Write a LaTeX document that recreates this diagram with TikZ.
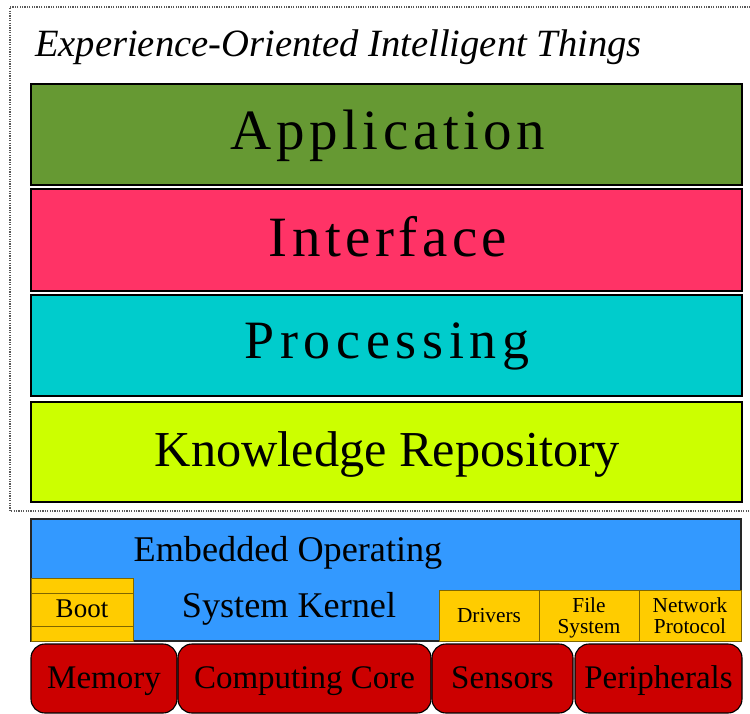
\documentclass[tikz,border=0pt]{standalone}
\usepackage{fontspec}
\setmainfont{Liberation Serif}
\definecolor{appgreen}{HTML}{669933}
\definecolor{intred}{HTML}{FF3366}
\definecolor{proccyan}{HTML}{00CCCC}
\definecolor{knowyellow}{HTML}{CCFF00}
\definecolor{osblue}{HTML}{3399FF}
\definecolor{modyellow}{HTML}{FFCC00}
\definecolor{modline}{HTML}{7F6600}
\definecolor{hwred}{HTML}{CC0000}
\begin{document}
\begin{tikzpicture}[x=1pt,y=-1pt,
  box/.style={rectangle, inner sep=0pt, outer sep=0pt, anchor=north west},
  layer/.style={box, draw=black, line width=1.5pt},
  osbox/.style={box, draw=black!85, line width=1.2pt, fill=osblue},
  module/.style={box, draw=modline, line width=0.8pt, fill=modyellow},
  hw/.style={box, draw=black, line width=1.1pt, fill=hwred, rounded corners=14pt},
  txt/.style={inner sep=0pt, outer sep=0pt, anchor=base, text=black},
]
\useasboundingbox (0,0) rectangle (750,713);
% dotted frame
\draw[black!65, line width=1.2pt, dash pattern=on 1.2pt off 1.2pt] (760,7) -- (10,7) -- (10,511) -- (760,511);
\node[txt, anchor=base west] (title) at (35,56) {\fontsize{38.6}{40}\selectfont\itshape Experience-Oriented Intelligent Things};
% layers
\node[layer, fill=appgreen, minimum width=711pt, minimum height=101pt] (app) at (31,84) {};
\node[layer, fill=intred, minimum width=711pt, minimum height=102pt] (int) at (31,189) {};
\node[layer, fill=proccyan, minimum width=711pt, minimum height=101pt] (proc) at (31,295) {};
\node[layer, fill=knowyellow, minimum width=711pt, minimum height=100pt] (know) at (31,402) {};
\node[txt] (apptxt) at (388,149) {\addfontfeature{LetterSpace=8}\fontsize{57}{60}\selectfont Application};
\node[txt] (inttxt) at (388,256) {\addfontfeature{LetterSpace=7.8}\fontsize{57}{60}\selectfont Interface};
\node[txt] (proctxt) at (387,358) {\addfontfeature{LetterSpace=10.5}\fontsize{54}{60}\selectfont Processing};
\node[txt] (knowtxt) at (387.5,466) {\fontsize{50.3}{55}\selectfont Knowledge Repository};
% OS kernel
\node[osbox, minimum width=710pt, minimum height=122pt] (os) at (31,519) {};
\node[txt] (ostxt1) at (288,561) {\fontsize{36.2}{40}\selectfont Embedded Operating};
\node[txt] (ostxt2) at (289,617) {\fontsize{36.2}{40}\selectfont System Kernel};
\node[module, minimum width=102pt, minimum height=15pt] (boota) at (31,578) {};
\node[module, minimum width=102pt, minimum height=33pt] (boot) at (31,593) {};
\node[module, minimum width=102pt, minimum height=15pt] (bootc) at (31,626) {};
\node[txt] (boottxt) at (82,617) {\fontsize{27}{30}\selectfont Boot};
\node[module, minimum width=100pt, minimum height=51pt] (drv) at (439,590) {};
\node[module, minimum width=100pt, minimum height=51pt] (fs) at (539,590) {};
\node[module, minimum width=102pt, minimum height=51pt] (net) at (639,590) {};
\node[txt] (drvtxt) at (489,622) {\fontsize{21.3}{24}\selectfont Drivers};
\node[txt] (fstxt1) at (589,612) {\fontsize{21.3}{24}\selectfont File};
\node[txt] (fstxt2) at (589,633) {\fontsize{21.3}{24}\selectfont System};
\node[txt] (nettxt1) at (690,612) {\fontsize{21.3}{24}\selectfont Network};
\node[txt] (nettxt2) at (690,633) {\fontsize{21.3}{24}\selectfont Protocol};
% hardware
\node[hw, minimum width=146pt, minimum height=69pt] (mem) at (31,644) {};
\node[hw, minimum width=253pt, minimum height=69pt] (core) at (178,644) {};
\node[hw, minimum width=141pt, minimum height=69pt] (sens) at (432,644) {};
\node[hw, minimum width=167pt, minimum height=69pt] (peri) at (575,644) {};
\node[txt] (memtxt) at (mem.center |- 0,688) {\fontsize{33}{36}\selectfont Memory};
\node[txt] (coretxt) at (core.center |- 0,688) {\fontsize{33}{36}\selectfont Computing Core};
\node[txt] (senstxt) at (sens.center |- 0,688) {\fontsize{33}{36}\selectfont Sensors};
\node[txt] (peritxt) at (peri.center |- 0,688) {\fontsize{33}{36}\selectfont Peripherals};
\end{tikzpicture}
\end{document}
